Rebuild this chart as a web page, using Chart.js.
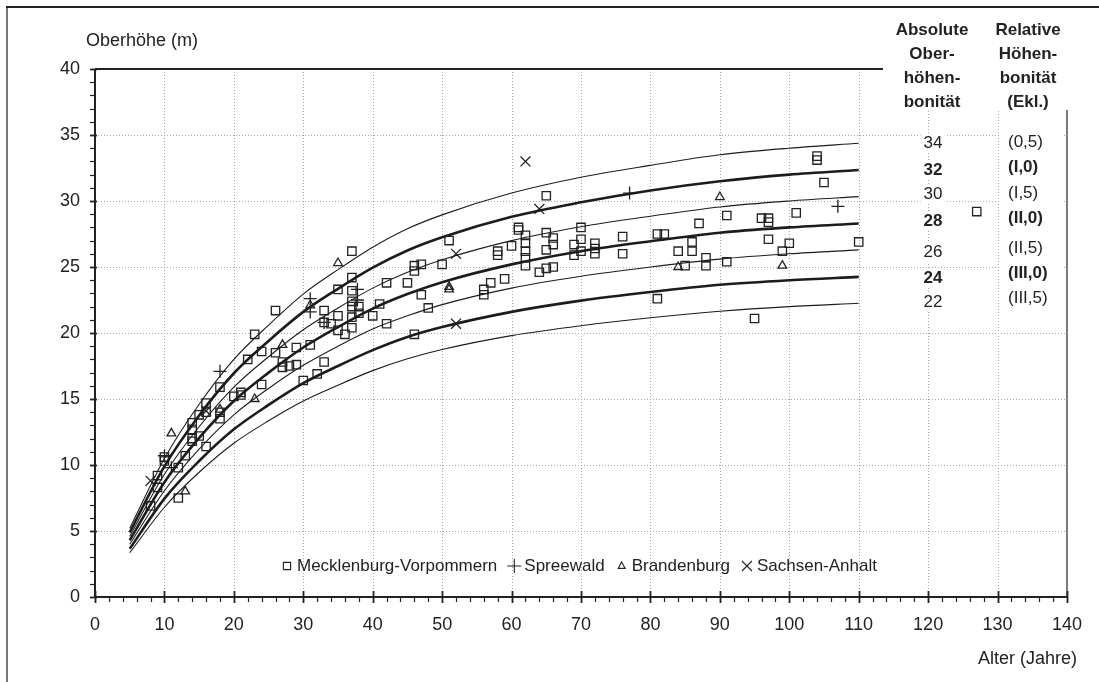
<!DOCTYPE html>
<html>
<head>
<meta charset="utf-8">
<script src="https://cdn.jsdelivr.net/npm/chart.js"></script>
<style>
  body { margin: 0; background: #fff; }
  canvas { display: block; }
</style>
</head>
<body>
<canvas id="chart" width="1099" height="682"></canvas>
<script>
// Site index curves (Oberhöhe at given age)
const ages = [5, 10, 15, 20, 25, 30, 35, 40, 45, 50, 60, 70, 80, 90, 100, 110];
const si34 = [5.2, 10.5, 14.6, 18.0, 20.6, 22.95, 24.8, 26.5, 27.9, 28.95, 30.6, 31.8, 32.7, 33.5, 34.0, 34.37];
const si32 = [4.9, 9.9, 13.75, 16.95, 19.4, 21.6, 23.35, 24.95, 26.25, 27.25, 28.8, 29.9, 30.8, 31.5, 32.0, 32.35];
const si30 = [4.6, 9.3, 12.9, 15.9, 18.2, 20.25, 21.9, 23.4, 24.6, 25.55, 27.0, 28.05, 28.85, 29.55, 30.0, 30.33];
const si28 = [4.3, 8.7, 12.05, 14.85, 17.0, 18.9, 20.45, 21.85, 22.95, 23.85, 25.2, 26.2, 26.95, 27.6, 28.0, 28.3];
const si26 = [4.0, 8.05, 11.2, 13.8, 15.8, 17.55, 19.0, 20.3, 21.3, 22.15, 23.4, 24.3, 25.0, 25.6, 26.0, 26.3];
const si24 = [3.65, 7.45, 10.3, 12.7, 14.55, 16.2, 17.5, 18.7, 19.7, 20.45, 21.6, 22.45, 23.1, 23.65, 24.0, 24.25];
const si22 = [3.35, 6.8, 9.45, 11.65, 13.35, 14.85, 16.05, 17.15, 18.05, 18.75, 19.8, 20.55, 21.15, 21.65, 22.0, 22.25];

const curveSI = [34, 32, 30, 28, 26, 24, 22];
const curveValues = [si34, si32, si30, si28, si26, si24, si22];

// Observed stands [age, height]
const mvPoints = [
  [8,6.9],[9,9.2],[9,8.3],[10,10.6],[10,10.3],[12,9.8],[12,7.5],[13,10.7],
  [14,13.2],[14,12.7],[14,12.0],[14,11.8],[15,13.8],[15,12.2],
  [16,14.7],[16,14.0],[16,11.4],[18,15.9],[18,14.0],[18,13.5],
  [20,15.2],[21,15.5],[21,15.3],[22,18.0],[23,19.9],[24,18.6],[24,16.1],
  [26,21.7],[26,18.5],[27,17.8],[27,17.4],[28,17.5],[29,18.9],[29,17.6],
  [30,16.4],[31,19.1],[32,16.9],[33,21.7],[33,20.8],[33,17.8],[34,20.7],
  [35,23.3],[35,21.3],[35,20.2],[36,19.9],
  [37,26.2],[37,24.2],[37,23.2],[37,22.4],[37,22.0],[37,21.2],[37,20.4],
  [38,22.0],[38,21.5],
  [40,21.3],[41,22.2],[42,23.8],[42,20.7],[45,23.8],[46,25.1],[46,24.7],[46,19.9],
  [47,25.2],[47,22.9],[48,21.9],[50,25.2],[51,27.0],
  [56,23.3],[56,22.9],[57,23.8],[58,26.2],[58,25.9],[59,24.1],[60,26.6],[61,28.0],[61,27.8],
  [62,27.4],[62,26.8],[62,26.2],[62,25.7],[62,25.1],[64,24.6],
  [65,30.4],[65,27.6],[65,26.3],[65,24.9],[66,27.2],[66,26.7],[66,25.0],
  [69,26.7],[69,25.9],[70,28.0],[70,27.1],[70,26.2],[72,26.8],[72,26.4],[72,26.0],[76,27.3],[76,26.0],
  [81,27.5],[82,27.5],[81,22.6],[84,26.2],[85,25.1],[86,26.9],[86,26.2],[87,28.3],[88,25.7],[88,25.1],
  [91,28.9],[91,25.4],[95,21.1],[96,28.7],[97,28.7],[97,28.4],[97,27.1],[99,26.2],[100,26.8],[101,29.1],
  [104,33.4],[104,33.1],[105,31.4],[110,26.9],[127,29.2]
];
const spreewaldPoints = [[10,10.7],[11,9.8],[18,17.1],[31,22.6],[31,21.6],[33,20.8],[37.8,23.3],[37.8,22.5],[77,30.6],[107,29.6]];
const brandenburgPoints = [[11,12.4],[13,8.0],[18,14.2],[23,15.0],[27,19.1],[31,22.1],[35,25.3],[51,23.5],[51,23.3],[84,25.0],[90,30.3],[99,25.1]];
const sachsenPoints = [[8,8.8],[16,14.1],[52,26.0],[52,20.7],[62,33.0],[64,29.4]];

const xTicks = [0, 10, 20, 30, 40, 50, 60, 70, 80, 90, 100, 110, 120, 130, 140];
const yTicks = [0, 5, 10, 15, 20, 25, 30, 35, 40];

const absLabels = ['34', '32', '30', '28', '26', '24', '22'];
const relLabels = ['(0,5)', '(I,0)', '(I,5)', '(II,0)', '(II,5)', '(III,0)', '(III,5)'];
const boldRow = [false, true, false, true, false, true, false];

const legendItems = [
  { label: 'Mecklenburg-Vorpommern', style: 'rect' },
  { label: 'Spreewald', style: 'cross' },
  { label: 'Brandenburg', style: 'triangle' },
  { label: 'Sachsen-Anhalt', style: 'crossRot' }
];

const FONT = '"Liberation Sans", Arial, Helvetica, sans-serif';
const INK = '#222';

const toXY = pts => pts.map(p => ({ x: p[0], y: p[1] }));

const datasets = curveValues.map((vals, i) => ({
  label: 'SI ' + curveSI[i],
  data: ages.map((a, k) => ({ x: a, y: vals[k] })),
  showLine: true,
  borderColor: '#1c1c1c',
  borderWidth: curveSI[i] % 4 === 0 ? 2.6 : 1.1,
  pointRadius: 0,
  cubicInterpolationMode: 'monotone',
  fill: false
}));

const pointStyleBase = { showLine: false, borderColor: INK, backgroundColor: 'rgba(0,0,0,0)', borderWidth: 1.3 };
datasets.push({ ...pointStyleBase, label: 'Mecklenburg-Vorpommern', data: toXY(mvPoints), pointStyle: 'rect', pointRadius: 5.9 });
datasets.push({ ...pointStyleBase, label: 'Spreewald', data: toXY(spreewaldPoints), pointStyle: 'cross', pointRadius: 6.5 });
datasets.push({ ...pointStyleBase, label: 'Brandenburg', data: toXY(brandenburgPoints), pointStyle: 'triangle', pointRadius: 5 });
datasets.push({ ...pointStyleBase, label: 'Sachsen-Anhalt', data: toXY(sachsenPoints), pointStyle: 'crossRot', pointRadius: 7 });

function drawSymbol(ctx, style, x, y, r) {
  ctx.beginPath();
  if (style === 'rect') {
    ctx.rect(x - r, y - r, 2 * r, 2 * r);
  } else if (style === 'cross') {
    ctx.moveTo(x - r, y); ctx.lineTo(x + r, y);
    ctx.moveTo(x, y - r); ctx.lineTo(x, y + r);
  } else if (style === 'triangle') {
    ctx.moveTo(x, y - r);
    ctx.lineTo(x + r * 0.87, y + r * 0.6);
    ctx.lineTo(x - r * 0.87, y + r * 0.6);
    ctx.closePath();
  } else {
    ctx.moveTo(x - r, y - r); ctx.lineTo(x + r, y + r);
    ctx.moveTo(x + r, y - r); ctx.lineTo(x - r, y + r);
  }
  ctx.stroke();
}

// Grid, axes, ticks, frame
const framePlugin = {
  id: 'framePlugin',
  beforeDatasetsDraw(chart) {
    const { ctx, chartArea: a, scales: { x, y } } = chart;
    ctx.save();
    ctx.strokeStyle = '#a8a8a8';
    ctx.lineWidth = 1;
    ctx.setLineDash([1, 2]);
    xTicks.slice(1, -1).forEach(v => {
      const px = Math.round(x.getPixelForValue(v)) + 0.5;
      ctx.beginPath(); ctx.moveTo(px, a.top); ctx.lineTo(px, a.bottom); ctx.stroke();
    });
    yTicks.slice(1, -1).forEach(v => {
      const py = Math.round(y.getPixelForValue(v)) + 0.5;
      ctx.beginPath(); ctx.moveTo(a.left, py); ctx.lineTo(a.right, py); ctx.stroke();
    });
    ctx.restore();
  },
  afterDatasetsDraw(chart) {
    const { ctx, chartArea: a, scales: { x, y } } = chart;
    ctx.save();
    // outer frame
    ctx.strokeStyle = '#777';
    ctx.lineWidth = 2;
    ctx.beginPath(); ctx.moveTo(7, 6); ctx.lineTo(7, 682); ctx.stroke();
    ctx.strokeStyle = INK;
    ctx.beginPath(); ctx.moveTo(6, 7); ctx.lineTo(1099, 7); ctx.stroke();

    // right border of plot (gray)
    ctx.strokeStyle = '#7a7a7a';
    ctx.beginPath(); ctx.moveTo(a.right, a.top); ctx.lineTo(a.right, a.bottom); ctx.stroke();

    // header box covers the upper right corner
    ctx.fillStyle = '#fff';
    ctx.fillRect(884, 9, 200, 101);
    ctx.fillRect(1000, 110, 62, 208);

    // top border
    ctx.strokeStyle = INK;
    ctx.lineWidth = 2;
    ctx.beginPath(); ctx.moveTo(a.left, a.top); ctx.lineTo(883, a.top); ctx.stroke();

    // axis lines
    ctx.beginPath(); ctx.moveTo(a.left, a.bottom); ctx.lineTo(a.right + 1, a.bottom); ctx.stroke();
    ctx.beginPath(); ctx.moveTo(a.left, a.top); ctx.lineTo(a.left, a.bottom + 1); ctx.stroke();

    // x ticks: minor every 2, major every 10
    for (let v = 0; v <= 140; v += 2) {
      const px = Math.round(x.getPixelForValue(v)) + 0.5;
      const major = v % 10 === 0;
      ctx.lineWidth = major ? 1.8 : 1.2;
      ctx.beginPath();
      ctx.moveTo(px, major ? a.bottom - 6 : a.bottom);
      ctx.lineTo(px, a.bottom + (major ? 6 : 5));
      ctx.stroke();
    }
    // y ticks: minor every 1, major every 5
    for (let v = 0; v <= 40; v += 1) {
      const py = Math.round(y.getPixelForValue(v)) + 0.5;
      const major = v % 5 === 0;
      ctx.lineWidth = major ? 1.8 : 1.2;
      ctx.beginPath();
      ctx.moveTo(a.left - 5, py);
      ctx.lineTo(a.left + (major ? 2 : 0), py);
      ctx.stroke();
    }

    // axis titles
    ctx.fillStyle = INK;
    ctx.font = '18px ' + FONT;
    ctx.textBaseline = 'middle';
    ctx.textAlign = 'left';
    ctx.fillText('Oberhöhe (m)', 86, 41);
    ctx.textAlign = 'right';
    ctx.fillText('Alter (Jahre)', 1077, 659);

    // bonität header
    ctx.font = 'bold 17px ' + FONT;
    ctx.textAlign = 'center';
    ['Absolute', 'Ober-', 'höhen-', 'bonität'].forEach((t, i) => ctx.fillText(t, 932, 30 + i * 24));
    ['Relative', 'Höhen-', 'bonität', '(Ekl.)'].forEach((t, i) => ctx.fillText(t, 1028, 30 + i * 24));

    // bonität rows
    const absY = [143, 170, 194, 221, 252, 278, 302];
    const relY = [142, 167, 193, 218, 248, 273, 298];
    absLabels.forEach((t, i) => {
      ctx.font = (boldRow[i] ? 'bold ' : '') + '17px ' + FONT;
      const w = ctx.measureText(t).width;
      ctx.fillStyle = '#fff';
      ctx.fillRect(933 - w / 2 - 3, absY[i] - 10, w + 6, 20);
      ctx.fillStyle = INK;
      ctx.textAlign = 'center';
      ctx.fillText(t, 933, absY[i]);
    });
    relLabels.forEach((t, i) => {
      ctx.font = (boldRow[i] ? 'bold ' : '') + '17px ' + FONT;
      ctx.fillStyle = INK;
      ctx.textAlign = 'left';
      ctx.fillText(t, 1008, relY[i]);
    });

    // legend inside the plot
    ctx.font = '17px ' + FONT;
    ctx.textAlign = 'left';
    ctx.lineWidth = 1.1;
    ctx.strokeStyle = INK;
    let lx = 287;
    const ly = 566;
    legendItems.forEach(item => {
      const r = item.style === 'rect' ? 3.6 : item.style === 'triangle' ? 4 : item.style === 'cross' ? 7 : 5;
      drawSymbol(ctx, item.style, lx, ly, r);
      ctx.fillText(item.label, lx + 10, ly);
      lx += 10 + ctx.measureText(item.label).width + 17;
    });
    ctx.restore();
  }
};

new Chart(document.getElementById('chart'), {
  type: 'scatter',
  data: { datasets },
  options: {
    responsive: false,
    animation: false,
    devicePixelRatio: 1,
    layout: { padding: { top: 69, right: 24, left: 0, bottom: 0 } },
    plugins: { legend: { display: false }, tooltip: { enabled: false } },
    scales: {
      x: {
        type: 'linear', min: 0, max: 140,
        afterFit: s => { s.height = 85; },
        afterBuildTicks: s => { s.ticks = xTicks.map(v => ({ value: v })); },
        grid: { display: false, drawTicks: false },
        border: { display: false },
        ticks: { color: INK, font: { size: 18, family: FONT }, padding: 17, maxRotation: 0 }
      },
      y: {
        type: 'linear', min: 0, max: 40,
        afterFit: s => { s.width = 95; },
        afterBuildTicks: s => { s.ticks = yTicks.map(v => ({ value: v })); },
        grid: { display: false, drawTicks: false },
        border: { display: false },
        ticks: { color: INK, font: { size: 18, family: FONT }, padding: 15 }
      }
    }
  },
  plugins: [framePlugin]
});
</script>
</body>
</html>
